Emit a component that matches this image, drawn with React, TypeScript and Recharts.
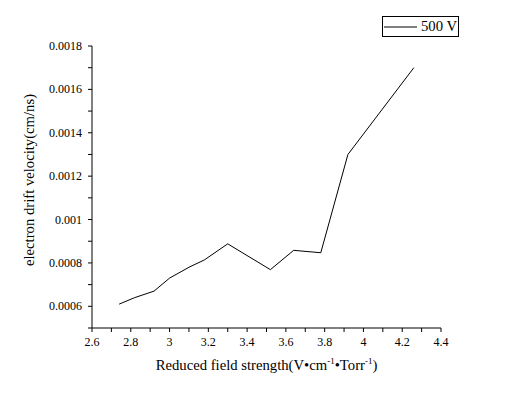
import { Legend, Line, LineChart, XAxis, YAxis, Label } from "recharts";

// reduced field strength (V/cm/Torr) and drift velocity (cm/ns)
const fieldStrength = [2.74, 2.82, 2.92, 3.0, 3.1, 3.18, 3.3, 3.52, 3.64, 3.78, 3.92, 4.26];
const driftVelocity = [
    0.00061, 0.00064, 0.00067, 0.00073, 0.00078, 0.000814, 0.000888, 0.000769,
    0.000858, 0.000847, 0.0013, 0.0017,
];

const xMajor = [2.6, 2.8, 3, 3.2, 3.4, 3.6, 3.8, 4, 4.2, 4.4];
const xMinor = [2.7, 2.9, 3.1, 3.3, 3.5, 3.7, 3.9, 4.1, 4.3];
const yMajor = [0.0006, 0.0008, 0.001, 0.0012, 0.0014, 0.0016, 0.0018];
const yMinor = [0.0005, 0.0007, 0.0009, 0.0011, 0.0013, 0.0015, 0.0017];

const seriesName = "500 V";
const xTitle = "Reduced field strength(V•cm";
const yTitle = "electron drift velocity(cm/ns)";

const FONT = "'Liberation Serif', 'Times New Roman', serif";

const data = fieldStrength.map((x, i) => ({ x, v: driftVelocity[i] }));

const isMajor = (list: number[], v: number) => list.some((m) => Math.abs(m - v) < 1e-9);

function XTick(props: any) {
    const { x, y, payload } = props;
    if (!isMajor(xMajor, payload.value)) return null;
    return (
        <text x={x} y={y + 9} textAnchor="middle" fontFamily={FONT} fontSize={12} fill="#000">
            {String(payload.value)}
        </text>
    );
}

function YTick(props: any) {
    const { x, y, payload } = props;
    if (!isMajor(yMajor, payload.value)) return null;
    return (
        <text x={x} y={y + 4} textAnchor="end" fontFamily={FONT} fontSize={12} fill="#000">
            {String(payload.value)}
        </text>
    );
}

function XTitle(props: any) {
    const { x, y, width } = props.viewBox;
    return (
        <text
            x={x + width / 2}
            y={y + 42}
            textAnchor="middle"
            fontFamily={FONT}
            fontSize={14.7}
            fill="#000"
        >
            {xTitle}
            <tspan dy={-6} fontSize={9}>-1</tspan>
            <tspan dy={6}>•Torr</tspan>
            <tspan dy={-6} fontSize={9}>-1</tspan>
            <tspan dy={6}>)</tspan>
        </text>
    );
}

function YTitle(props: any) {
    const { x, y, height } = props.viewBox;
    const cx = x + 29;
    const cy = y + height / 2 - 7;
    return (
        <text
            x={cx}
            y={cy}
            transform={`rotate(-90, ${cx}, ${cy})`}
            textAnchor="middle"
            dominantBaseline="central"
            fontFamily={FONT}
            fontSize={14.7}
            fill="#000"
        >
            {yTitle}
        </text>
    );
}

function LegendBox() {
    return (
        <div
            style={{
                width: 77,
                height: 21,
                border: "1px solid #000",
                boxSizing: "border-box",
                display: "flex",
                alignItems: "center",
                background: "#fff",
                fontFamily: FONT,
                fontSize: 14.7,
                color: "#000",
            }}
        >
            <svg width={36} height={10} style={{ marginLeft: 1 }}>
                <line x1={0} y1={5} x2={33} y2={5} stroke="#000" strokeWidth={1} />
            </svg>
            <span style={{ marginLeft: 1, lineHeight: "19px" }}>{seriesName}</span>
        </div>
    );
}

export default function App() {
    return (
        <div style={{ position: "absolute", left: 0, top: 0, background: "#fff", fontFamily: FONT }}>
            <LineChart
                width={515}
                height={395}
                data={data}
                margin={{ top: 46, right: 74, left: 0, bottom: 37 }}
            >
                <XAxis
                    dataKey="x"
                    type="number"
                    domain={[2.6, 4.4]}
                    ticks={[...xMajor, ...xMinor].sort((a, b) => a - b)}
                    interval={0}
                    allowDataOverflow
                    height={30}
                    tickSize={4}
                    tickMargin={5}
                    stroke="#000"
                    tick={<XTick />}
                >
                    <Label content={<XTitle />} />
                </XAxis>
                <YAxis
                    type="number"
                    domain={[0.0005, 0.0018]}
                    ticks={[...yMajor, ...yMinor].sort((a, b) => a - b)}
                    interval={0}
                    allowDataOverflow
                    width={92}
                    tickSize={4}
                    tickMargin={6}
                    stroke="#000"
                    tick={<YTick />}
                >
                    <Label content={<YTitle />} />
                </YAxis>
                <Legend
                    layout="vertical"
                    align="center"
                    verticalAlign="middle"
                    wrapperStyle={{ left: 382, top: 16, width: 77 }}
                    content={<LegendBox />}
                />
                <Line
                    type="linear"
                    dataKey="v"
                    name={seriesName}
                    stroke="#000"
                    strokeWidth={1}
                    dot={false}
                    activeDot={false}
                    isAnimationActive={false}
                />
            </LineChart>
        </div>
    );
}
